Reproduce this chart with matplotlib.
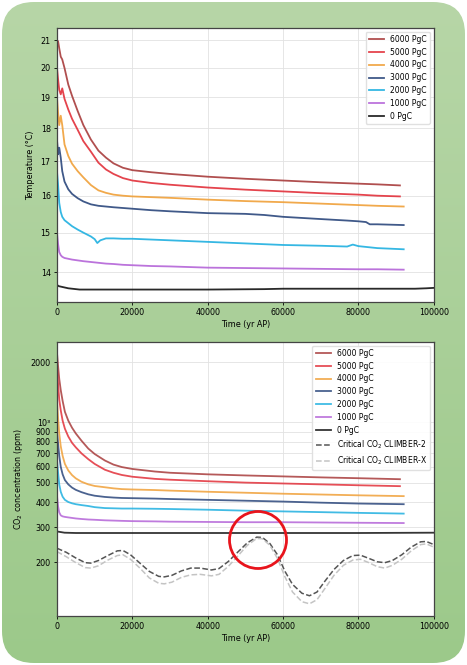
import matplotlib
matplotlib.use('Agg')
import matplotlib.pyplot as plt
import numpy as np
from matplotlib.patches import FancyBboxPatch, Ellipse

# ---- temperature (deg C), each run with its own time axis (yr AP)
t_6000 = [0, 300, 600, 1000, 1400, 2000, 3000, 4000, 5500, 7000, 9000, 11000, 13000,
          15000, 17500, 20000, 25000, 30000, 40000, 50000, 60000, 70000, 80000, 85000, 91000]
temp_6000 = [21.0, 20.95, 20.7, 20.4, 20.3, 20.0, 19.43, 19.05, 18.55, 18.1, 17.65, 17.31, 17.1,
             16.93, 16.8, 16.73, 16.67, 16.62, 16.54, 16.48, 16.43, 16.38, 16.34, 16.32, 16.29]
temp_5000 = [20.0, 19.6, 19.25, 19.1, 19.3, 18.95, 18.6, 18.3, 17.95, 17.6, 17.28, 16.95, 16.75,
             16.62, 16.5, 16.43, 16.36, 16.31, 16.23, 16.17, 16.12, 16.07, 16.03, 16.0, 15.98]
t_4000 = [0, 300, 600, 1000, 1400, 2000, 3000, 4000, 5500, 7000, 9000, 11000, 13000,
          15000, 17500, 20000, 25000, 30000, 40000, 50000, 60000, 70000, 80000, 85000, 92000]
temp_4000 = [19.0, 18.5, 18.1, 18.4, 18.1, 17.5, 17.15, 16.92, 16.7, 16.52, 16.3, 16.15, 16.08,
             16.03, 16.0, 15.98, 15.96, 15.94, 15.89, 15.85, 15.82, 15.78, 15.74, 15.72, 15.7]
t_3000 = [0, 300, 600, 1000, 1400, 2000, 3000, 4000, 5500, 7000, 9000, 11000, 13000, 15000,
          17500, 20000, 25000, 30000, 40000, 50000, 55000, 60000, 70000, 77000, 80000, 82000,
          83000, 85000, 92000]
temp_3000 = [17.65, 17.2, 17.4, 17.1, 16.7, 16.4, 16.18, 16.05, 15.93, 15.84, 15.76, 15.72, 15.7,
             15.68, 15.66, 15.64, 15.6, 15.57, 15.52, 15.5, 15.47, 15.42, 15.36, 15.32, 15.3, 15.28,
             15.22, 15.22, 15.2]
t_2000 = [0, 300, 600, 1000, 1400, 2000, 3000, 4000, 5500, 7000, 9000, 10000, 10700, 11500,
          13000, 15000, 17500, 20000, 25000, 30000, 40000, 50000, 60000, 70000, 77000, 78500,
          80000, 85000, 92000]
temp_2000 = [16.7, 16.3, 15.8, 15.55, 15.42, 15.33, 15.25, 15.17, 15.08, 15.0, 14.9, 14.83, 14.73,
             14.8, 14.85, 14.85, 14.84, 14.84, 14.82, 14.8, 14.76, 14.72, 14.68, 14.66, 14.64, 14.69,
             14.65, 14.6, 14.57]
temp_1000 = [15.0, 14.7, 14.5, 14.42, 14.38, 14.35, 14.33, 14.31, 14.29, 14.27, 14.25, 14.23, 14.21,
             14.2, 14.18, 14.17, 14.15, 14.14, 14.11, 14.1, 14.09, 14.08, 14.07, 14.07, 14.06]
t_0 = [0, 500, 1000, 2000, 3000, 4000, 6000, 10000, 20000, 40000, 55000, 60000, 80000, 95000,
       98000, 100000]
temp_0 = [13.69, 13.66, 13.65, 13.63, 13.61, 13.6, 13.58, 13.58, 13.58, 13.58, 13.59, 13.6, 13.6,
          13.6, 13.61, 13.62]

# ---- CO2 (ppm)
t_co2_a = [0, 300, 600, 1000, 1500, 2100, 3000, 4000, 5000, 6500, 8300, 10000, 12700, 15000,
           17200, 20000, 26000, 30000, 40000, 50000, 60000, 70000, 80000, 91000]
t_co2_b = t_co2_a[:-1] + [92000]
co2_6000 = [2230, 1900, 1650, 1450, 1280, 1130, 1020, 940, 880, 810, 740, 695, 645, 615,
            598, 585, 568, 560, 550, 543, 537, 531, 526, 520]
co2_5000 = [1900, 1550, 1300, 1150, 1020, 930, 850, 790, 750, 700, 655, 620, 580, 560,
            546, 535, 522, 517, 508, 500, 495, 490, 485, 480]
co2_4000 = [1300, 1050, 880, 760, 680, 620, 575, 545, 525, 505, 490, 481, 474, 468,
            464, 462, 459, 456, 450, 445, 440, 436, 432, 428]
co2_3000 = [900, 780, 680, 600, 550, 515, 490, 472, 460, 448, 437, 430, 424, 421,
            419, 418, 416, 414, 410, 406, 402, 397, 393, 390]
co2_2000 = [650, 560, 490, 450, 425, 410, 400, 394, 390, 386, 382, 377, 373, 372,
            371, 371, 370, 369, 366, 362, 359, 356, 353, 350]
co2_1000 = [430, 380, 355, 343, 339, 337, 335, 333, 331, 329, 327, 326, 324, 323,
            322, 321, 320, 319, 318, 317, 317, 316, 315, 314]
t_co2_0 = [0, 1000, 2000, 5000, 20000, 50000, 80000, 100000]
co2_0 = [285, 283, 281, 280, 280, 280, 280, 281]

# critical CO2 thresholds
t_crit = [0, 2500, 5000, 7500, 9000, 11000, 13500, 16000, 17500, 19500, 22000, 24500, 27000,
          28500, 30500, 33000, 35500, 38000, 41000, 43000, 45500, 48000, 50500, 53000, 54500,
          56500, 58500, 60500, 62500, 65000, 67000, 69000, 71000, 73500, 76000, 78500, 80500,
          82500, 85000, 87000, 89000, 91500, 94000, 96500, 98000, 100000]
crit_c2 = [235, 224, 210, 199, 198, 204, 216, 228, 229, 218, 198, 180, 170, 169, 172, 181, 187,
           187, 183, 186, 202, 225, 250, 267, 266, 248, 218, 180, 155, 140, 136, 142, 160, 184,
           204, 216, 217, 210, 201, 199, 204, 218, 238, 253, 254, 245]
crit_cx = [226, 213, 199, 188, 187, 192, 205, 216, 218, 207, 187, 167, 157, 156, 159, 168, 173,
           174, 171, 174, 191, 215, 243, 263, 262, 243, 209, 169, 142, 127, 124, 130, 147, 172,
           193, 205, 207, 200, 190, 187, 193, 207, 228, 245, 247, 238]

labels = ['6000 PgC', '5000 PgC', '4000 PgC', '3000 PgC', '2000 PgC', '1000 PgC', '0 PgC']
colors = ['#a83c3c', '#e2303a', '#f0a038', '#2b477c', '#1fb0e0', '#b464d8', '#111111']
temp_ticks = [14, 15, 16, 17, 18, 19, 20, 21]
co2_ticks = [200, 300, 400, 500, 600, 700, 800, 900, 1000, 2000]
co2_ticklabels = ['200', '300', '400', '500', '600', '700', '800', '900', '10³', '2000']

fs = 5.8
fig = plt.figure(figsize=(4.67, 6.65), dpi=100)

# green slide background with rounded corners and a soft vertical gradient
bg = fig.add_axes([0, 0, 1, 1], zorder=-10)
bg.set_xlim(0, 467)
bg.set_ylim(0, 665)
bg.axis('off')
box = FancyBboxPatch((2 + 32, 2 + 32), 463 - 64, 661 - 64, boxstyle='round,pad=32',
                     facecolor='none', edgecolor='none')
bg.add_patch(box)
grad = np.linspace(0, 1, 256).reshape(-1, 1)
cmap = matplotlib.colors.LinearSegmentedColormap.from_list('g', ['#9cc98a', '#b7d6a7'])
im = bg.imshow(grad, extent=[0, 467, 0, 665], origin='lower', cmap=cmap, aspect='auto')
im.set_clip_path(box)

ax1 = fig.add_axes([0.122, 0.546, 0.807, 0.412])
ax2 = fig.add_axes([0.122, 0.074, 0.807, 0.412])

temp_t = [t_6000, t_6000, t_4000, t_3000, t_2000, t_4000, t_0]
temp_v = [temp_6000, temp_5000, temp_4000, temp_3000, temp_2000, temp_1000, temp_0]
for tt, vv, lab, col in zip(temp_t, temp_v, labels, colors):
    ax1.plot(tt, vv, color=col, lw=1.3, alpha=0.9, label=lab)

co2_t = [t_co2_a, t_co2_a, t_co2_b, t_co2_b, t_co2_b, t_co2_b, t_co2_0]
co2_v = [co2_6000, co2_5000, co2_4000, co2_3000, co2_2000, co2_1000, co2_0]
for tt, vv, lab, col in zip(co2_t, co2_v, labels, colors):
    ax2.plot(tt, vv, color=col, lw=1.3, alpha=0.85, label=lab)
ax2.plot(t_crit, crit_c2, color='#555555', lw=1.1, ls='--', label='Critical CO$_2$ CLIMBER-2')
ax2.plot(t_crit, crit_cx, color='#c4c4c4', lw=1.1, ls='--', label='Critical CO$_2$ CLIMBER-X')

ax1.set_yscale('log')
ax1.set_ylim(13.29, 21.45)
ax1.set_yticks(temp_ticks)
ax1.set_yticklabels([str(v) for v in temp_ticks])
ax1.yaxis.set_minor_locator(matplotlib.ticker.NullLocator())
ax1.set_ylabel('Temperature (°C)', fontsize=fs)

ax2.set_yscale('log')
ax2.set_ylim(108, 2527)
ax2.set_yticks(co2_ticks)
ax2.set_yticklabels(co2_ticklabels)
ax2.yaxis.set_minor_locator(matplotlib.ticker.NullLocator())
ax2.set_ylabel('CO$_2$ concentration (ppm)', fontsize=fs)

for ax in (ax1, ax2):
    ax.set_xlim(0, 100000)
    ax.set_xticks([0, 20000, 40000, 60000, 80000, 100000])
    ax.set_xlabel('Time (yr AP)', fontsize=fs, labelpad=2)
    ax.tick_params(labelsize=fs, length=2.5, width=0.6, pad=2)
    ax.grid(True, color='#e2e2e2', lw=0.6)
    for sp in ax.spines.values():
        sp.set_color('#444444')
        sp.set_linewidth(0.9)
    ax.legend(loc='upper right', fontsize=5.5, framealpha=0.9, edgecolor='#dddddd',
              fancybox=True)

# red circle highlighting the overlap near 53 kyr
circ_ax = fig.add_axes([0, 0, 1, 1], zorder=30)
circ_ax.set_xlim(0, 467)
circ_ax.set_ylim(0, 665)
circ_ax.axis('off')
circ_ax.add_patch(Ellipse((258, 665 - 540), 57, 57, facecolor='none', edgecolor='#e8141c',
                          lw=2.0))

fig.savefig('out.png', dpi=100)
